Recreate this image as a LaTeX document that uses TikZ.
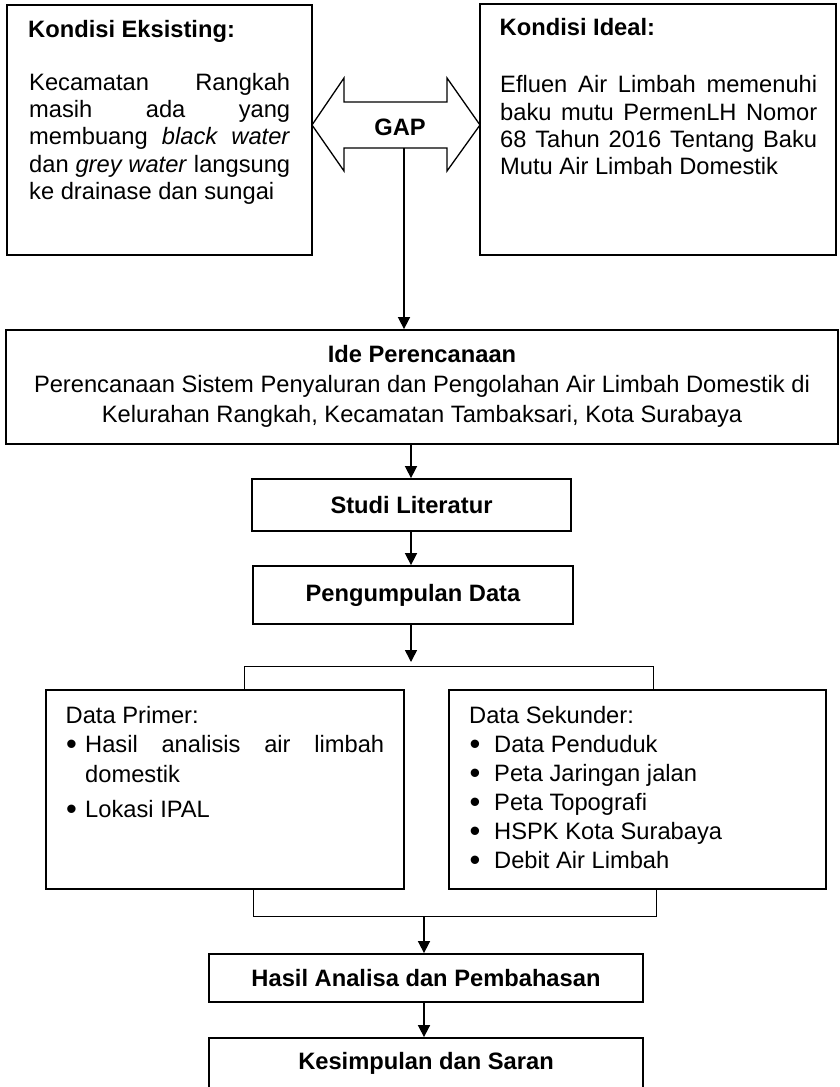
\documentclass[tikz,border=0pt]{standalone}
\usepackage{fontspec}
\setmainfont{Liberation Sans}
\usetikzlibrary{arrows.meta}
\newcommand\jline[2]{\makebox[#1][s]{#2}}
\newcommand\mybullet{\raisebox{-2.2pt}{\scalebox{1.3}{\textbullet}}}
\begin{document}
\begin{tikzpicture}[x=1pt,y=-1pt,
  txt/.style={font=\fontsize{23.7}{27.3}\selectfont, inner sep=0pt, anchor=base west},
  btxt/.style={font=\bfseries\fontsize{23.7}{27.3}\selectfont, inner sep=0pt, anchor=base west},
  box/.style={draw, line width=1.8pt, inner sep=0pt},
  boxt/.style={box, font=\bfseries\fontsize{23.7}{27.3}\selectfont},
  arr/.style={-{Triangle[length=12pt,width=12pt]}, line width=1.6pt},
  thinline/.style={line width=1pt},
  gapline/.style={line width=1.3pt, line join=miter}]
\useasboundingbox (0,0) rectangle (840,1087);
\fill[white] (0,0) rectangle (840,1087);
\clip (0,0) rectangle (840,1087);

% top boxes
\node[box, minimum width=305, minimum height=250] (exist) at (159.5,130) {};
\node[btxt] (e0) at (28,37) {Kondisi Eksisting:};
\node[txt] (e1) at (29,90) {\jline{261pt}{Kecamatan Rangkah}};
\node[txt] (e2) at (29,117) {\jline{261pt}{masih ada yang}};
\node[txt] (e3) at (29,144) {\jline{261pt}{membuang \textit{black water}}};
\node[txt] (e4) at (29,172) {\jline{261pt}{dan \textit{grey water} langsung}};
\node[txt] (e5) at (29,199) {ke drainase dan sungai};

\node[box, minimum width=356, minimum height=251] (ideal) at (658,129.5) {};
\node[btxt] (i0) at (499.5,35) {Kondisi Ideal:};
\node[txt] (i1) at (500,92.5) {\jline{317pt}{Efluen Air Limbah memenuhi}};
\node[txt] (i2) at (500,120) {\jline{317pt}{baku mutu PermenLH Nomor}};
\node[txt] (i3) at (500,147) {\jline{317pt}{68 Tahun 2016 Tentang Baku}};
\node[txt] (i4) at (500,174.5) {Mutu Air Limbah Domestik};

% GAP double arrow
\draw[gapline] (312,125) -- (344,78) -- (344,102) -- (447,102) -- (447,78) -- (480,125)
  -- (447,171) -- (447,148) -- (344,148) -- (344,171) -- cycle;
\node[btxt, anchor=center] (gap) at (400,127) {GAP};
\coordinate (gapbot) at (404,148);

% Ide box
\node[box, minimum width=832, minimum height=114] (ide) at (422,387) {};
\node[btxt, anchor=base] (ide0) at (422,362) {Ide Perencanaan};
\node[txt, anchor=base] (ide1) at (422,392) {Perencanaan Sistem Penyaluran dan Pengolahan Air Limbah Domestik di};
\node[txt, anchor=base] (ide2) at (422,422) {Kelurahan Rangkah, Kecamatan Tambaksari, Kota Surabaya};

\node[boxt, minimum width=319, minimum height=52] (studi) at (411.5,505) {Studi Literatur};
\node[boxt, minimum width=320, minimum height=58] (kumpul) at (413,595) {Pengumpulan Data};

% data boxes
\node[box, minimum width=358, minimum height=199] (primer) at (225,789.5) {};
\node[txt] (p0) at (65.5,723) {Data Primer:};
\node[txt] (p1b) at (66,752) {\mybullet};
\node[txt] (p1) at (85,752) {\jline{299pt}{Hasil analisis air limbah}};
\node[txt] (p2) at (85,782) {domestik};
\node[txt] (p3b) at (66,817) {\mybullet};
\node[txt] (p3) at (85,817) {Lokasi IPAL};

\node[box, minimum width=377, minimum height=199] (sekunder) at (637.5,789.5) {};
\node[txt] (s0) at (469,723) {Data Sekunder:};
\node[txt] (s1b) at (469.5,752) {\mybullet};
\node[txt] (s1) at (494,752) {Data Penduduk};
\node[txt] (s2b) at (469.5,781) {\mybullet};
\node[txt] (s2) at (494,781) {Peta Jaringan jalan};
\node[txt] (s3b) at (469.5,810) {\mybullet};
\node[txt] (s3) at (494,810) {Peta Topografi};
\node[txt] (s4b) at (469.5,839) {\mybullet};
\node[txt] (s4) at (494,839) {HSPK Kota Surabaya};
\node[txt] (s5b) at (469.5,868) {\mybullet};
\node[txt] (s5) at (494,868) {Debit Air Limbah};

\node[boxt, minimum width=434, minimum height=48] (hasil) at (426,978) {Hasil Analisa dan Pembahasan};
\node[boxt, minimum width=434, minimum height=50] (kesim) at (426,1063) {Kesimpulan dan Saran};

% connectors
\draw[arr] (gapbot) -- (gapbot |- ide.north);
\coordinate (a1) at (411,0);
\draw[arr] (ide.south -| a1) -- (studi.north -| a1);
\draw[arr] (studi.south -| a1) -- (kumpul.north -| a1);
\coordinate (bt) at (411,662);
\draw[arr] (kumpul.south -| a1) -- (bt);
\coordinate (bl) at (244,666);
\coordinate (br) at (653,666);
\draw[thinline] (primer.north -| bl) -- (bl) -- (br) -- (sekunder.north -| br);
\coordinate (cl) at (253,916);
\coordinate (cr) at (656,916);
\draw[thinline] (primer.south -| cl) -- (cl) -- (cr) -- (sekunder.south -| cr);
\coordinate (a2) at (424,916);
\draw[arr] (a2) -- (hasil.north -| a2);
\draw[arr] (hasil.south -| a2) -- (kesim.north -| a2);
\end{tikzpicture}
\end{document}
